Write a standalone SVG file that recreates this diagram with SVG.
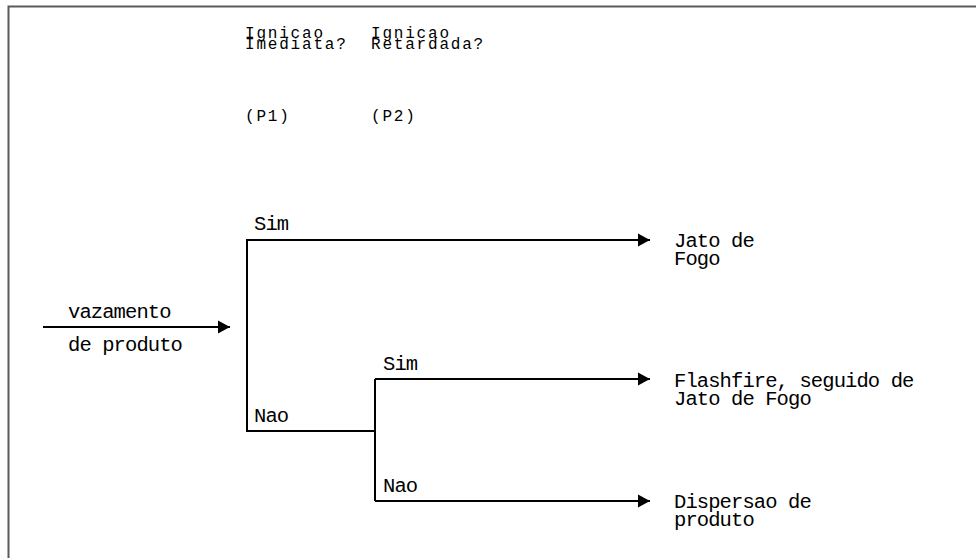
<svg xmlns="http://www.w3.org/2000/svg" width="976" height="558" viewBox="0 0 976 558">
  <style>
    .lbl { font-family: "Liberation Mono", "DejaVu Sans Mono", monospace; font-size: 20.5px; letter-spacing: -0.9px; fill: #000; }
    .hdr { font-family: "Liberation Mono", "DejaVu Sans Mono", monospace; font-size: 16px; letter-spacing: 1.8px; fill: #000; }
    .edge { stroke: #000; stroke-width: 2; fill: none; }
    .frame { stroke: #5a5a5a; stroke-width: 2; fill: none; }
  </style>
  <defs>
    <marker id="arrow" markerUnits="userSpaceOnUse" markerWidth="13" markerHeight="14" refX="12" refY="7" orient="auto">
      <path d="M0,0.5 L12,7 L0,13.5 Z" fill="#000"/>
    </marker>
  </defs>
  <rect width="976" height="558" fill="#fff"/>
  <path class="frame" d="M8.5,558 L8.5,6.5 L976,6.5"/>

  <g id="header-p1">
    <text class="hdr" x="245" y="37.5">Ignicao</text>
    <text class="hdr" x="245" y="49">Imediata?</text>
    <text class="hdr" x="245" y="121">(P1)</text>
  </g>
  <g id="header-p2">
    <text class="hdr" x="371" y="37.5">Ignicao</text>
    <text class="hdr" x="371" y="49">Retardada?</text>
    <text class="hdr" x="371" y="121">(P2)</text>
  </g>

  <g id="connectors">
    <line class="edge" x1="43" y1="327" x2="230" y2="327" marker-end="url(#arrow)"/>
    <polyline class="edge" points="650,240 247,240 247,431 375,431"/>
    <line class="edge" x1="247" y1="240" x2="650" y2="240" marker-end="url(#arrow)"/>
    <polyline class="edge" points="375,379 375,501"/>
    <line class="edge" x1="375" y1="379" x2="650" y2="379" marker-end="url(#arrow)"/>
    <line class="edge" x1="375" y1="501" x2="650" y2="501" marker-end="url(#arrow)"/>
    <text class="lbl" x="254" y="230">Sim</text>
    <text class="lbl" x="254" y="422">Nao</text>
    <text class="lbl" x="383" y="370">Sim</text>
    <text class="lbl" x="383" y="492">Nao</text>
  </g>

  <g id="start">
    <text class="lbl" x="68" y="318">vazamento</text>
    <text class="lbl" x="68" y="351">de produto</text>
  </g>
  <g id="outcome-jato">
    <text class="lbl" x="674" y="247">Jato de</text>
    <text class="lbl" x="674" y="265">Fogo</text>
  </g>
  <g id="outcome-flashfire">
    <text class="lbl" x="674" y="387">Flashfire, seguido de</text>
    <text class="lbl" x="674" y="405">Jato de Fogo</text>
  </g>
  <g id="outcome-dispersao">
    <text class="lbl" x="674" y="508">Dispersao de</text>
    <text class="lbl" x="674" y="526">produto</text>
  </g>
</svg>
